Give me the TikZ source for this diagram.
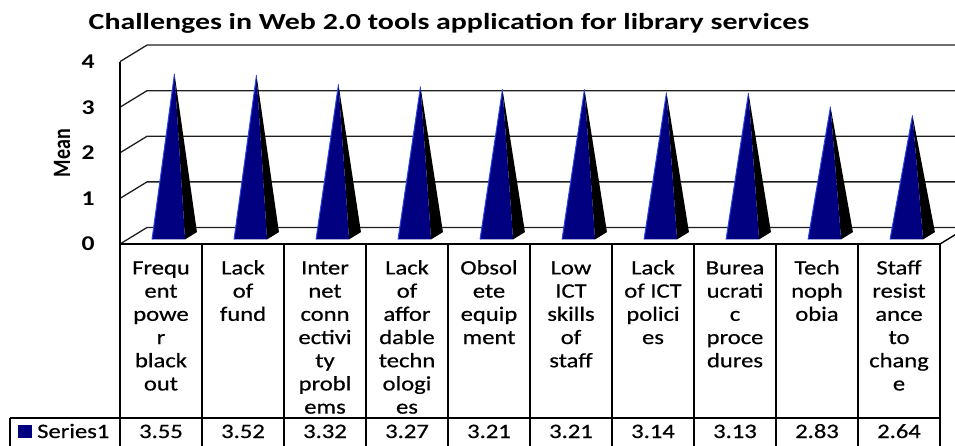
\documentclass[tikz,border=0pt]{standalone}
\usepackage{fontspec}
\setmainfont{Carlito}
\newfontfamily\chartfont[FakeBold=0.5]{Carlito}
\newfontfamily\tickfont{Carlito}
\newfontfamily\headfont[FakeStretch=1.3]{Carlito}
\newcommand{\widetext}[1]{\scalebox{1.2}[1]{#1}}
\newcommand{\stacked}[1]{\widetext{\begin{tabular}{@{}c@{}}#1\end{tabular}}}
\definecolor{pyrnavy}{RGB}{0,0,128}
\definecolor{pyredge}{RGB}{40,70,235}
\definecolor{gridgray}{RGB}{30,30,30}
\tikzset{
  gridline/.style={draw=gridgray, line width=1.3pt},
  tableline/.style={draw=black, line width=1.4pt},
  frontface/.style={fill=pyrnavy},
  sideface/.style={fill=black},
  catlabel/.style={font=\chartfont\fontsize{20.5}{23.2}\selectfont, anchor=north, inner sep=0pt},
  vallabel/.style={font=\chartfont\fontsize{20.5}{22}\selectfont, anchor=base, inner sep=0pt},
  ticklabel/.style={font=\tickfont\bfseries\fontsize{21}{24}\selectfont, inner sep=0pt},
  charttitle/.style={font=\headfont\bfseries\fontsize{23}{26}\selectfont, inner sep=0pt}
}
\begin{document}
\begin{tikzpicture}[x=1pt, y=-1pt]
  \useasboundingbox (0,0) rectangle (955,446);
  \clip (0,0) rectangle (955,446);

  % title
  \node[charttitle] (title) at (449,23) {Challenges in Web 2.0 tools application for library services};

  % axis title
  \node[inner sep=0pt] (ytitle) at (62,153)
    {\scalebox{1.25}[1]{\rotatebox{90}{\fontsize{20}{22}\selectfont\bfseries Mean}}};

  % side wall and back wall gridlines (v = 1..4)
  \foreach \v in {1,2,3,4} {
    \draw[gridline] (120,{244-45.6*\v}) -- (147,{227.5-45.6*\v}) -- (980,{227.5-45.6*\v});
  }
  % floor outline
  \draw[gridline] (120,244) -- (147,227.5) -- (980,227.5);
  \draw[tableline] (940,244) -- (967,227.5);

  % tick labels
  \foreach \v in {0,1,2,3,4} {
    \node[ticklabel] (tick\v) at (88,{244-45.6*\v}) {\scalebox{1.22}[1]{\v}};
  }

  % pyramids
  \foreach \val [count=\i] in {3.55,3.52,3.32,3.27,3.21,3.21,3.14,3.13,2.83,2.64} {
    \pgfmathsetmacro{\xc}{161+82*(\i-1)}
    \pgfmathsetmacro{\ay}{235.75-45.6*\val}
    \coordinate (fl\i) at ({\xc-8.94},239.4);
    \coordinate (fr\i) at ({\xc+24.06},239.4);
    \coordinate (br\i) at ({\xc+35.94},232.1);
    \coordinate (apex\i) at ({\xc+13.5},\ay);
    \fill[sideface] (fr\i) -- (br\i) -- (apex\i) -- cycle;
    \fill[frontface] (fl\i) -- (fr\i) -- (apex\i) -- cycle;
    \draw[pyredge, line width=1pt] (fl\i) -- (apex\i);
  }

  % data table
  \draw[tableline] (120,61.6) -- (120,446);
  \draw[tableline] (120,244) -- (940,244);
  \foreach \k in {1,...,10} {
    \draw[tableline] ({120+82*\k},244) -- ({120+82*\k},446);
  }
  \draw[tableline] (10,418) -- (940,418);
  \draw[tableline] (10,418) -- (10,446);

  % category labels
  \foreach \lab [count=\i] in {
      {Frequ\\ent\\powe\\r\\black\\out},
      {Lack\\of\\fund},
      {Inter\\net\\conn\\ectivi\\ty\\probl\\ems},
      {Lack\\of\\affor\\dable\\techn\\ologi\\es},
      {Obsol\\ete\\equip\\ment},
      {Low\\ICT\\skills\\of\\staff},
      {Lack\\of ICT\\polici\\es},
      {Burea\\ucrati\\c\\proce\\dures},
      {Tech\\noph\\obia},
      {Staff\\resist\\ance\\to\\chang\\e}} {
    \node[catlabel] (cat\i) at ({161+82*(\i-1)},258) {\stacked{\lab}};
  }

  % values row
  \fill[pyrnavy] (18,425) rectangle (32,438);
  \node[vallabel, anchor=base west] (series) at (37,438) {\widetext{Series1}};
  \foreach \val [count=\i] in {3.55,3.52,3.32,3.27,3.21,3.21,3.14,3.13,2.83,2.64} {
    \node[vallabel] (val\i) at ({161+82*(\i-1)},438) {\widetext{\val}};
  }
\end{tikzpicture}
\end{document}
